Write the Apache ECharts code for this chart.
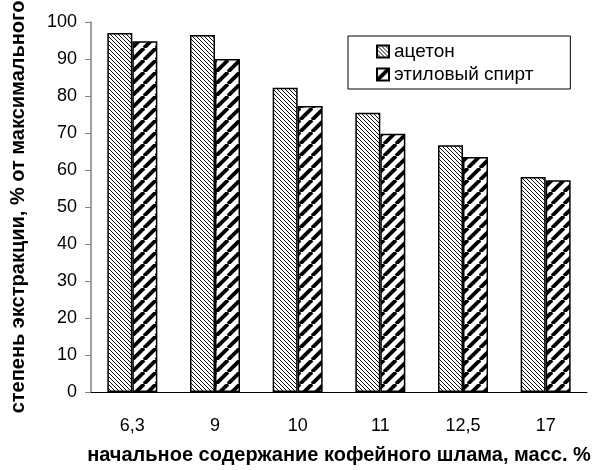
<!DOCTYPE html>
<html>
<head>
<meta charset="utf-8">
<script src="https://cdn.jsdelivr.net/npm/echarts@6/dist/echarts.min.js"></script>
<style>
  html, body { margin: 0; padding: 0; background: #fff; }
  #chart { width: 596px; height: 470px; }
</style>
</head>
<body>
<div id="chart"></div>
<script>
const categories = ["6,3", "9", "10", "11", "12,5", "17"];
const acetone = [97, 96.5, 82.2, 75.5, 66.7, 58.1];
const ethanol = [94.8, 90, 77.3, 69.8, 63.5, 57.2];
const seriesNames = ["ацетон", "этиловый спирт"];

const font = '"Liberation Sans", Arial, sans-serif';

// diagonal hatch tile; dir "\\" or "/"
function hatch(size, lineWidth, color, dir) {
  const c = document.createElement("canvas");
  c.width = size;
  c.height = size;
  const ctx = c.getContext("2d");
  ctx.fillStyle = "#fff";
  ctx.fillRect(0, 0, size, size);
  ctx.strokeStyle = color;
  ctx.lineWidth = lineWidth;
  for (let k = -1; k <= 1; k++) {
    ctx.beginPath();
    if (dir === "/") {
      ctx.moveTo(k * size, size);
      ctx.lineTo(k * size + size, 0);
    } else {
      ctx.moveTo(k * size, 0);
      ctx.lineTo(k * size + size, size);
    }
    ctx.stroke();
  }
  return c;
}

const thinHatch = { image: hatch(4, 1, "#111", "\\"), repeat: "repeat" };
const thickHatch = { image: hatch(12, 3.8, "#000", "/"), repeat: "repeat" };

const chart = echarts.init(document.getElementById("chart"));

chart.setOption({
  backgroundColor: "#fff",
  animation: false,
  grid: { left: 90, right: 9, top: 22, bottom: 70 },
  legend: {
    orient: "vertical",
    left: 348,
    top: 36,
    padding: [6, 37, 5, 28],
    itemGap: 4,
    itemWidth: 12,
    itemHeight: 12,
    borderColor: "#000",
    borderWidth: 1,
    icon: "rect",
    textStyle: { fontFamily: font, fontSize: 19, color: "#000" },
    data: seriesNames,
  },
  xAxis: {
    type: "category",
    data: categories,
    name: "начальное содержание кофейного шлама, масс. %",
    nameLocation: "middle",
    nameGap: 53,
    nameTextStyle: { fontFamily: font, fontSize: 20, fontWeight: "bold", color: "#000" },
    axisLine: { lineStyle: { color: "#000", width: 1 } },
    axisTick: { length: 5, lineStyle: { color: "#000" } },
    axisLabel: { fontFamily: font, fontSize: 18, color: "#000", margin: 25 },
  },
  yAxis: {
    type: "value",
    min: 0,
    max: 100,
    interval: 10,
    name: "степень экстракции, % от максимального",
    nameLocation: "middle",
    nameGap: 63,
    nameTextStyle: { fontFamily: font, fontSize: 20, fontWeight: "bold", color: "#000" },
    axisLine: { show: true, lineStyle: { color: "#808080", width: 1.5 } },
    axisTick: { show: true, length: 6, lineStyle: { color: "#808080" } },
    axisLabel: { fontFamily: font, fontSize: 18, color: "#000", margin: 14 },
    splitLine: { show: false },
  },
  series: [
    {
      name: seriesNames[0],
      type: "bar",
      data: acetone,
      barWidth: 25,
      barGap: "0%",
      itemStyle: { color: thinHatch, borderColor: "#000", borderWidth: 1.5 },
    },
    {
      name: seriesNames[1],
      type: "bar",
      data: ethanol,
      barWidth: 25,
      itemStyle: { color: thickHatch, borderColor: "#000", borderWidth: 1.5 },
    },
  ],
});
</script>
</body>
</html>
